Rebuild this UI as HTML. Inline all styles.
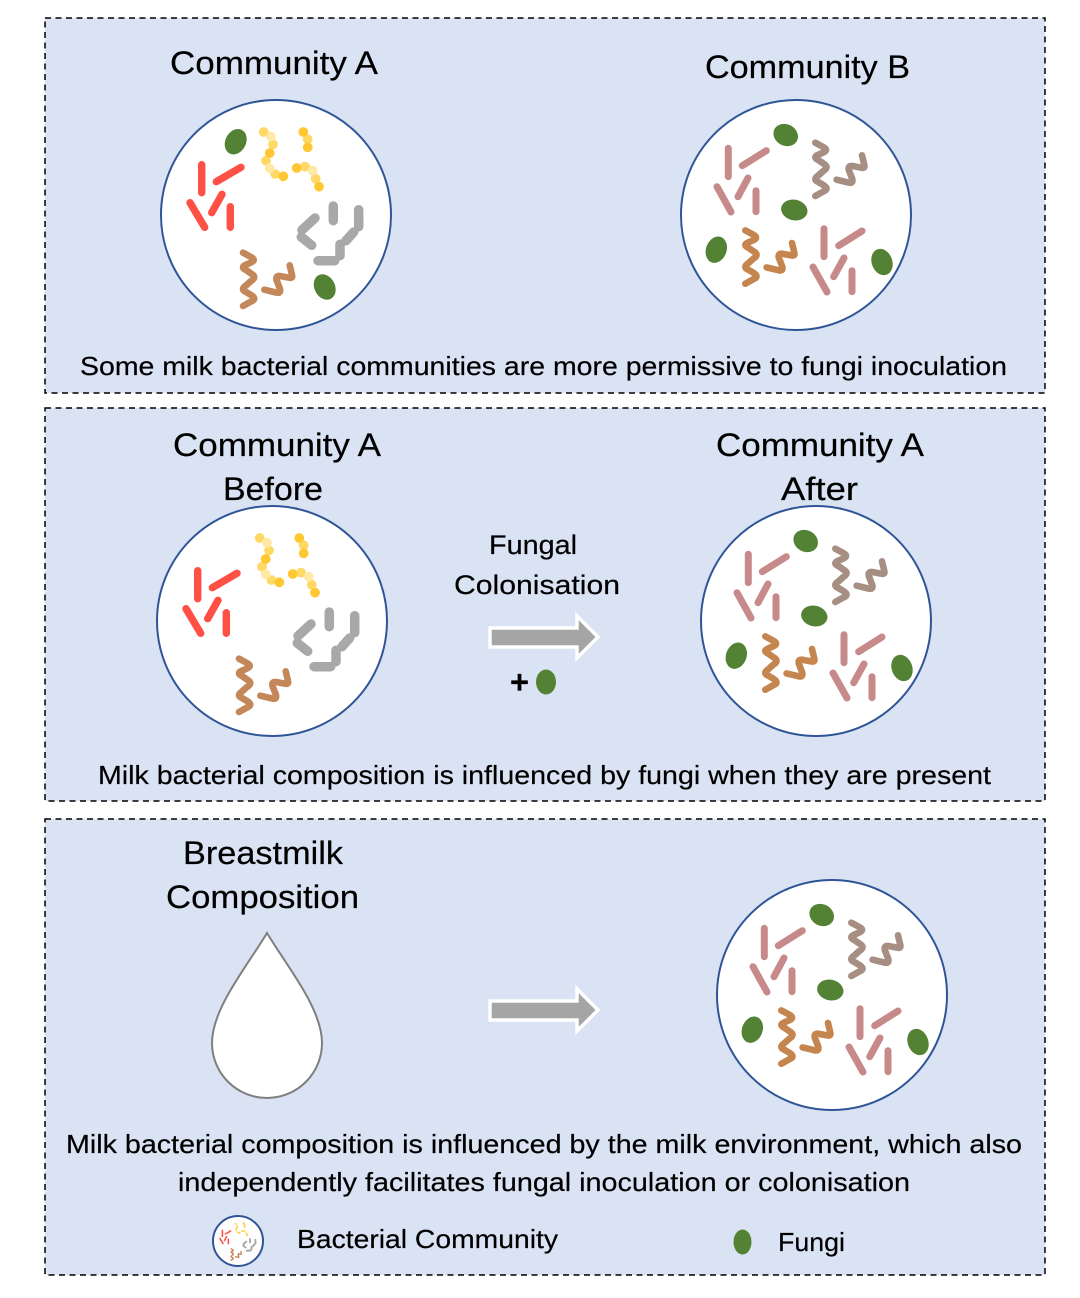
<!DOCTYPE html>
<html>
<head>
<meta charset="utf-8">
<style>
html,body{margin:0;padding:0;background:#fff}
svg{display:block}
text{font-family:"Liberation Sans",sans-serif;fill:#000;stroke:#000;stroke-width:.2px}
.t{font-size:32px}
.b{font-size:26px}
.m{font-size:27px}
</style>
</head>
<body>
<svg width="1080" height="1298" viewBox="0 0 1080 1298" xmlns="http://www.w3.org/2000/svg">
<defs>
<g id="red" fill="none" stroke="#FF5046" stroke-width="7.400" stroke-linecap="round">
  <path d="M-74.300,-50.300V-22.300M-59.700,-33.300L-35,-47.700M-86,-12.300L-71.300,12.300M-54,-20.700L-64.300,-2.300M-45.700,-8.300V12.300"/>
</g>
<g id="yellow">
  <g fill="#FFD966">
    <circle cx="-12.300" cy="-83" r="4.900"/><circle cx="-3" cy="-70.700" r="4.900"/><circle cx="-10" cy="-54.300" r="4.900"/><circle cx="-0.700" cy="-41" r="4.900"/><circle cx="31.700" cy="-75.700" r="4.900"/><circle cx="29" cy="-48.300" r="4.900"/><circle cx="39.700" cy="-36.300" r="4.900"/>
  </g>
  <g fill="#FFE9A6">
    <circle cx="-5" cy="-78.300" r="4.900"/><circle cx="-6.300" cy="-46.700" r="4.900"/><circle cx="36.700" cy="-44.300" r="4.900"/>
  </g>
  <g fill="#FFC832">
    <circle cx="-6.300" cy="-62" r="4.900"/><circle cx="7.300" cy="-38.700" r="4.900"/><circle cx="27.300" cy="-83" r="4.900"/><circle cx="31.700" cy="-67.700" r="4.900"/><circle cx="20.700" cy="-47" r="4.900"/><circle cx="43" cy="-28.300" r="4.900"/>
  </g>
</g>
<g id="gray" fill="none" stroke="#A8A8A8" stroke-width="9.500" stroke-linecap="round">
  <path d="M57.300,-9V5.700M82.700,-5.300V11.700M77.700,17L70,25.700M64,29.300V40.700M58.700,45.700H42M25.300,22L35.700,30.300M39,3L26,15"/>
</g>
<g id="wave" fill="none" stroke-width="6.600" stroke-linecap="round" stroke-linejoin="round">
  <path d="M-33,37.700L-25,42Q-19.500,45 -25,47.500L-30,49.700Q-36,52.300 -30,55L-25,58.500Q-18.500,62 -25,66L-30,70.500Q-36,74.500 -30,77L-25,80Q-18.500,84 -25,86.500L-33,91"/>
  <path d="M-11.700,74.700L0,77.500Q5,79 4,74L0.500,65Q-0.500,60.500 4,61L12,62.500Q17,64 16,60L13.700,50.300"/>
</g>
<g id="wavyA" stroke="#C4875A"><use href="#wave"/></g>
<g id="eA" fill="#548235">
  <ellipse cx="-40.300" cy="-73.300" rx="10.300" ry="13.300" transform="rotate(27 -40.300 -73.300)"/>
  <ellipse cx="48.700" cy="72" rx="10.300" ry="13.300" transform="rotate(-27 48.700 72)"/>
</g>
<g id="baseA">
  <use href="#red"/><use href="#yellow"/><use href="#gray"/><use href="#wavyA"/>
</g>
<g id="commB">
  <g fill="none" stroke="#C78A8A" stroke-width="7" stroke-linecap="round">
    <path d="M-67.700,-66.700V-38.300M-53.700,-49.300L-29.700,-64.300M-79,-28.300L-65,-3M-48,-37L-58,-18.300M-40,-24.300V-3.300"/>
    <path d="M28,13.700V41.700M42.700,30.700L66,16M17,52L31,77M48,43L37.700,61.700M56,55.700V76.700"/>
  </g>
  <g stroke="#A68F82"><use href="#wave" x="52.300" y="-110"/></g>
  <g stroke="#C5854F"><use href="#wave" x="-17.700" y="-22.300"/></g>
  <g fill="#548235">
    <ellipse cx="-10.300" cy="-80" rx="12.700" ry="10.700" transform="rotate(28 -10.300 -80)"/>
    <ellipse cx="-1.700" cy="-5" rx="13.300" ry="10.300" transform="rotate(12 -1.700 -5)"/>
    <ellipse cx="-79.700" cy="34.700" rx="10.300" ry="13.500" transform="rotate(20 -79.700 34.700)"/>
    <ellipse cx="86" cy="47" rx="10.300" ry="13.500" transform="rotate(-20 86 47)"/>
  </g>
</g>
<polygon id="arrow" points="490,628 577,628 577,616 598,637 577,658 577,647 490,647" fill="#A5A5A5" stroke="#fff" stroke-width="3.500"/>
</defs>

<rect width="1080" height="1298" fill="#fff"/>

<g fill="#DAE3F3" stroke="#000" stroke-width="1.500" stroke-dasharray="6 4.500">
  <rect x="45" y="18" width="1000" height="375"/>
  <rect x="45" y="408" width="1000" height="393"/>
  <rect x="45" y="819" width="1000" height="456"/>
</g>

<g fill="#fff" stroke="#2F5597" stroke-width="2">
  <circle cx="276" cy="215" r="115"/>
  <circle cx="796" cy="215" r="115"/>
  <circle cx="272" cy="621" r="115"/>
  <circle cx="816" cy="621" r="115"/>
  <circle cx="832" cy="995" r="115"/>
  <circle cx="238" cy="1241" r="25"/>
</g>

<g transform="translate(276 215)"><use href="#baseA"/><use href="#eA"/></g>
<g transform="translate(796 215)"><use href="#commB"/></g>
<g transform="translate(272 621)"><use href="#baseA"/></g>
<g transform="translate(816 621)"><use href="#commB"/></g>
<g transform="translate(832 995)"><use href="#commB"/></g>
<g transform="translate(238 1241) scale(0.21)"><use href="#baseA"/></g>

<use href="#arrow"/>
<use href="#arrow" y="373"/>

<ellipse cx="546" cy="682" rx="10" ry="12.500" fill="#548235"/>
<ellipse cx="742.500" cy="1242" rx="9" ry="12.500" fill="#548235"/>

<path d="M267,933 C248,965 212,1008 212,1043 A55,55 0 0 0 322,1043 C322,1008 286,965 267,933 Z" fill="#fff" stroke="#7F7F7F" stroke-width="2"/>

<text class="t" x="170" y="74" textLength="208" lengthAdjust="spacingAndGlyphs">Community A</text>
<text class="t" x="705" y="78" textLength="205" lengthAdjust="spacingAndGlyphs">Community B</text>
<text class="b" x="80" y="375" textLength="927" lengthAdjust="spacingAndGlyphs">Some milk bacterial communities are more permissive to fungi inoculation</text>

<text class="t" x="173" y="456" textLength="208" lengthAdjust="spacingAndGlyphs">Community A</text>
<text class="t" x="223" y="500" textLength="100" lengthAdjust="spacingAndGlyphs">Before</text>
<text class="t" x="716" y="456" textLength="208" lengthAdjust="spacingAndGlyphs">Community A</text>
<text class="t" x="781" y="500" textLength="77" lengthAdjust="spacingAndGlyphs">After</text>
<text class="m" x="489" y="554" textLength="88" lengthAdjust="spacingAndGlyphs">Fungal</text>
<text class="m" x="454" y="594" textLength="166" lengthAdjust="spacingAndGlyphs">Colonisation</text>
<text class="t" x="510" y="693" textLength="19" lengthAdjust="spacingAndGlyphs" style="font-weight:bold">+</text>
<text class="b" x="98" y="784" textLength="893" lengthAdjust="spacingAndGlyphs">Milk bacterial composition is influenced by fungi when they are present</text>

<text class="t" x="183" y="864" textLength="160" lengthAdjust="spacingAndGlyphs">Breastmilk</text>
<text class="t" x="166" y="908" textLength="193" lengthAdjust="spacingAndGlyphs">Composition</text>
<text class="b" x="66" y="1153" textLength="956" lengthAdjust="spacingAndGlyphs">Milk bacterial composition is influenced by the milk environment, which also</text>
<text class="b" x="178" y="1191" textLength="732" lengthAdjust="spacingAndGlyphs">independently facilitates fungal inoculation or colonisation</text>
<text class="b" x="297" y="1248" textLength="261" lengthAdjust="spacingAndGlyphs">Bacterial Community</text>
<text class="b" x="778" y="1251" textLength="67" lengthAdjust="spacingAndGlyphs">Fungi</text>
</svg>
</body>
</html>
